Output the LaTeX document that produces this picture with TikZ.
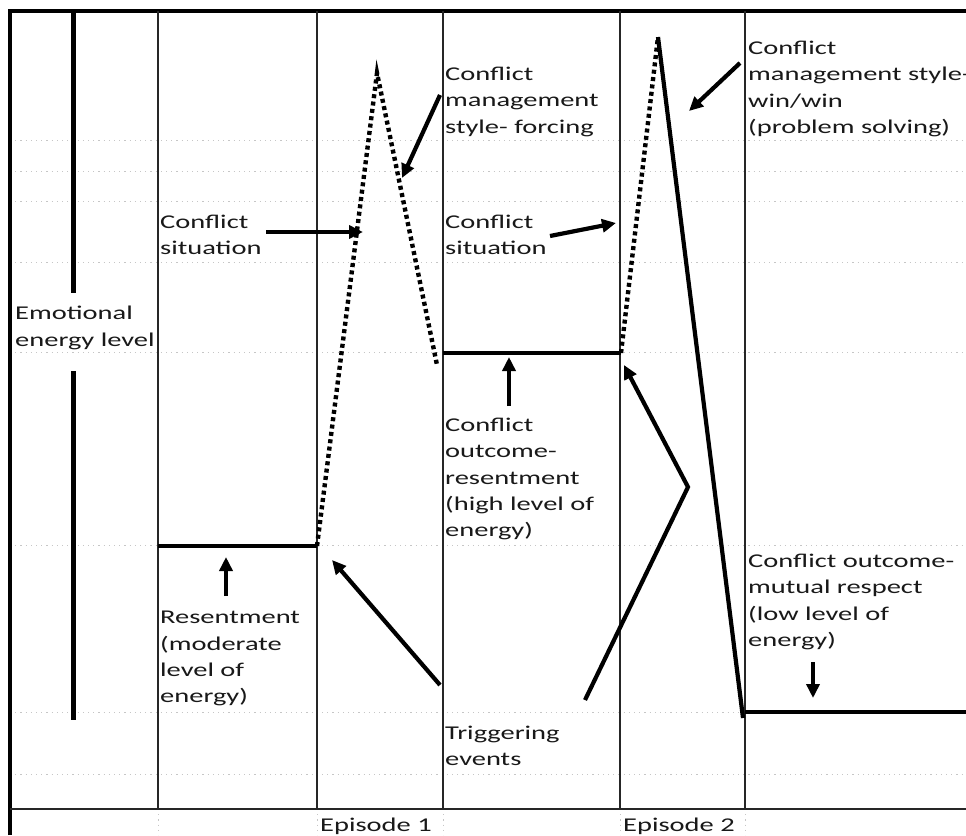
\documentclass[tikz,border=0pt]{standalone}
\usepackage{fontspec}
\setmainfont{Carlito}[FakeStretch=1.46]
\usetikzlibrary{arrows.meta}
\begin{document}
\begin{tikzpicture}[x=1pt,y=-1pt,
  gridline/.style={gray!45, line width=0.8pt, dash pattern=on 1.2pt off 4pt},
  colline/.style={line width=2.2pt, black!85},
  frameline/.style={line width=3.2pt, black},
  levelline/.style={line width=3.2pt, black},
  thickarrow/.style={line width=4.2pt, -{Triangle[length=14pt,width=13pt]}},
  dotline/.style={line width=4.4pt, dash pattern=on 4pt off 3.4pt},
  lbl/.style={anchor=north west, inner sep=0pt, align=left, text=black!90,
    font=\fontsize{19.5}{26.3}\selectfont}]
\useasboundingbox (0,0) rectangle (966,835);
\fill[white] (0,0) rectangle (966,835);
% grid lines
\foreach \y in {140,171,201,262,352,545,712,774}
  \draw[gridline] (10,\y) -- (966,\y);
\foreach \x in {158,317,443,620,745}
  \draw[gridline] (\x,809) -- (\x,835);
% frame
\draw[frameline] (10,835) -- (10,11) -- (966,11);
\draw[line width=2.5pt, black!85] (10,809) -- (966,809);
% column lines
\foreach \x in {158,317,443,620,745}
  \draw[colline] (\x,11) -- (\x,809);
% coordinates
\coordinate (eT) at (73,11);
\coordinate (eA) at (73,293);
\coordinate (eB) at (73,371);
\coordinate (eE) at (73,720);
\coordinate (r1a) at (158,546);
\coordinate (r1b) at (317,546);
\coordinate (p1) at (377,73);
\coordinate (p1e) at (437,365);
\coordinate (r2a) at (443,353);
\coordinate (r2b) at (621,353);
\coordinate (p2) at (658,37);
\coordinate (low) at (743,718);
\coordinate (r3a) at (745,712);
\coordinate (r3b) at (966,712);
% labels
\node[lbl] (emo) at (15,306) {Emotional\\energy level};
\node[lbl] (cs1) at (160,215) {Conflict\\situation};
\node[lbl] (cmf) at (445,67) {Conflict\\management\\style- forcing};
\node[lbl] (cs2) at (445,215) {Conflict\\situation};
\node[lbl] (cmw) at (748,41) {Conflict\\management style-\\win/win\\(problem solving)};
\node[lbl] (cor) at (445,418) {Conflict\\outcome-\\resentment\\(high level of\\energy)};
\node[lbl] (res) at (160,611) {Resentment\\(moderate\\level of\\energy)};
\node[lbl] (trig) at (445,726) {Triggering\\events};
\node[lbl] (com) at (748,554) {Conflict outcome-\\mutual respect\\(low level of\\energy)};
\node[lbl] (ep1) at (320,818) {Episode 1};
\node[lbl] (ep2) at (623,818) {Episode 2};
% emotional energy axis
\draw[line width=5pt] (eT) -- (eA);
\draw[line width=5pt] (eB) -- (eE);
% levels
\draw[levelline] (r1a) -- (r1b);
\draw[levelline] (r2a) -- (r2b);
\draw[levelline] (r3a) -- (r3b);
% peaks
\draw[dotline] (r1b) -- (p1) -- (p1e);
\draw[dotline] (r2b) -- (p2);
\draw[line width=4.2pt] (p2) -- (low);
% arrows
\coordinate (a1s) at (266,232); \coordinate (a1e) at (363,232);
\draw[thickarrow] (a1s) -- (a1e);
\coordinate (a2s) at (440,95); \coordinate (a2e) at (402,178);
\draw[thickarrow] (a2s) -- (a2e);
\coordinate (a3s) at (550,236); \coordinate (a3e) at (616,223);
\draw[thickarrow] (a3s) -- (a3e);
\coordinate (a4s) at (740,63); \coordinate (a4e) at (689,111);
\draw[thickarrow] (a4s) -- (a4e);
\coordinate (a5s) at (226,596); \coordinate (a5e) at (226,557);
\draw[thickarrow] (a5s) -- (a5e);
\coordinate (a6s) at (509,406); \coordinate (a6e) at (509,357);
\draw[thickarrow] (a6s) -- (a6e);
\coordinate (a7s) at (813,662); \coordinate (a7e) at (813,698);
\draw[thickarrow] (a7s) -- (a7e);
\coordinate (a8s) at (440,685); \coordinate (a8e) at (332,560);
\draw[thickarrow] (a8s) -- (a8e);
\coordinate (a9s) at (585,700); \coordinate (a9m) at (688,487); \coordinate (a9e) at (624,365);
\draw[thickarrow] (a9s) -- (a9m) -- (a9e);
\end{tikzpicture}
\end{document}
